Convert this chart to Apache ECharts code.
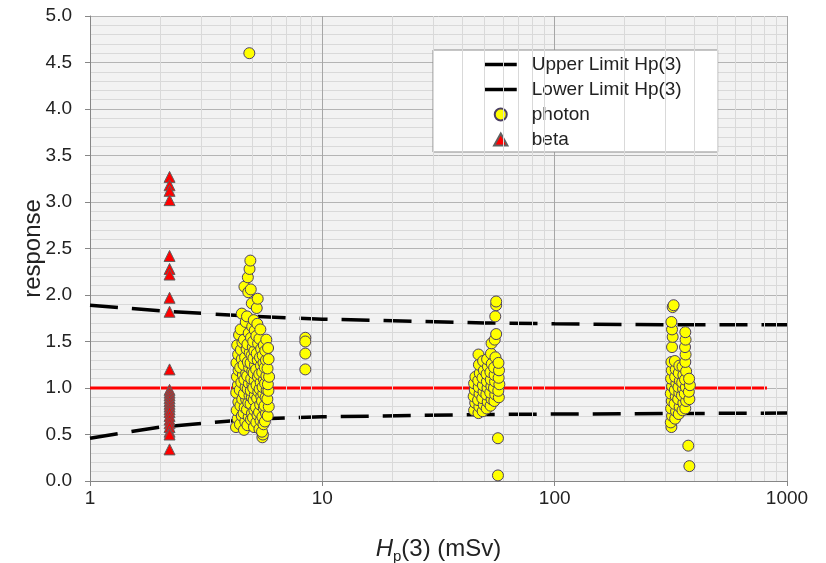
<!DOCTYPE html>
<html><head><meta charset="utf-8">
<script src="https://cdn.jsdelivr.net/npm/echarts@6/dist/echarts.min.js"></script>
<style>html,body{margin:0;padding:0;background:#fff}#c{width:826px;height:563px}</style>
</head><body><div id="c"></div>
<script>
// ---- data ----
const xTickLabels = ['1','10','100','1000'];
const minorX = [2,3,4,5,6,7,8,9,20,30,40,50,60,70,80,90,200,300,400,500,600,700,800,900];
const limitX = [1, 2, 5, 10, 50, 100, 300, 1000];
const upperY = [1.89, 1.83, 1.77, 1.74, 1.70, 1.69, 1.68, 1.68];
const lowerY = [0.46, 0.58, 0.665, 0.69, 0.715, 0.72, 0.725, 0.73];
const refX = [1, 820];
const refY = [1, 1];
const betaX = 2.2;
const betaY = [3.27,3.18,3.12,3.02,2.42,2.28,2.22,1.97,1.82,1.20,0.98,0.95,0.92,0.89,0.86,0.83,0.80,0.77,0.74,0.70,0.66,0.62,0.58,0.53,0.50,0.34];
const photon5 = [
[4.25,0.58],[4.32,0.67],[4.28,0.76],[4.35,0.85],[4.26,0.95],[4.33,1.03],[4.29,1.12],[4.36,1.19],[4.27,1.27],[4.34,1.36],[4.3,1.46],[4.38,1.57],
[4.42,0.61],[4.5,0.70],[4.44,0.81],[4.52,0.88],[4.41,0.98],[4.48,1.06],[4.55,1.14],[4.43,1.22],[4.5,1.31],[4.46,1.41],[4.53,1.49],[4.45,1.63],[4.5,1.80],
[4.6,0.55],[4.66,0.64],[4.58,0.73],[4.63,0.79],[4.7,0.88],[4.6,0.94],[4.67,1.01],[4.62,1.09],[4.7,1.16],[4.58,1.25],[4.65,1.33],[4.72,1.42],[4.6,1.52],[4.68,1.71],[4.62,2.09],
[4.76,0.60],[4.82,0.69],[4.74,0.77],[4.8,0.84],[4.86,0.92],[4.77,0.99],[4.83,1.05],[4.75,1.13],[4.84,1.22],[4.78,1.28],[4.87,1.38],[4.76,1.47],[4.82,1.59],[4.74,1.77],[4.8,2.03],[4.78,2.19],
[4.85,4.60],[4.86,2.28],[4.9,2.37],[4.93,0.66],[4.98,0.73],[4.91,0.83],[4.97,0.90],[4.92,0.97],[5.0,1.04],[4.94,1.10],[4.99,1.18],[4.91,1.27],[4.96,1.35],[5.02,1.44],[4.93,1.54],[4.99,1.66],[4.97,1.91],[4.92,2.06],
[5.08,0.58],[5.03,0.68],[5.1,0.76],[5.06,0.87],[5.12,0.93],[5.04,1.00],[5.11,1.08],[5.06,1.16],[5.13,1.25],[5.05,1.32],[5.1,1.40],[5.04,1.50],[5.12,1.62],[5.07,1.73],
[5.2,0.63],[5.26,0.71],[5.18,0.79],[5.24,0.89],[5.3,0.96],[5.21,1.03],[5.28,1.12],[5.19,1.20],[5.27,1.30],[5.22,1.37],[5.29,1.48],[5.2,1.56],[5.25,1.69],[5.22,1.86],[5.27,1.96],
[5.36,0.56],[5.42,0.65],[5.34,0.74],[5.4,0.82],[5.46,0.91],[5.37,0.99],[5.43,1.06],[5.35,1.15],[5.44,1.24],[5.39,1.33],[5.45,1.42],[5.36,1.53],[5.41,1.63],
[5.52,0.47],[5.55,0.50],[5.5,0.53],[5.58,0.61],[5.52,0.69],[5.6,0.78],[5.5,0.86],[5.57,0.94],[5.53,1.01],[5.61,1.09],[5.51,1.17],[5.58,1.27],[5.54,1.35],[5.6,1.46],
[5.66,0.64],[5.72,0.73],[5.64,0.81],[5.7,0.90],[5.76,0.98],[5.67,1.05],[5.74,1.13],[5.65,1.22],[5.72,1.30],[5.68,1.40],[5.74,1.52],
[5.82,0.70],[5.88,0.80],[5.8,0.88],[5.86,0.97],[5.83,1.04],[5.9,1.12],[5.81,1.21],[5.87,1.31],[5.84,1.43]
];
const photon8 = [[8.45,1.54],[8.45,1.50],[8.45,1.37],[8.45,1.20]];
const photon50 = [
[45,0.76],[45.5,0.84],[44.8,0.91],[45.3,0.98],[45,1.05],[45.6,1.12],
[47,0.73],[47.4,0.80],[46.8,0.87],[47.5,0.94],[47.1,1.01],[46.9,1.08],[47.6,1.16],[47.2,1.25],[47,1.36],
[49,0.75],[49.5,0.82],[48.8,0.89],[49.4,0.96],[49.1,1.03],[48.9,1.11],[49.6,1.19],[49.2,1.29],
[51,0.78],[51.5,0.85],[50.8,0.93],[51.4,1.00],[51.1,1.07],[50.9,1.15],[51.6,1.23],[51.2,1.31],
[53,0.81],[53.5,0.88],[52.8,0.95],[53.4,1.02],[53.1,1.09],[52.9,1.17],[53.6,1.26],[53.2,1.37],[53.5,1.48],
[55,0.86],[55.5,0.93],[54.8,1.00],[55.4,1.07],[55.1,1.14],[54.9,1.22],[55.6,1.33],[55.2,1.52],[56,1.58],[55.5,1.77],[56,1.89],[56,1.93],
[57.5,0.90],[57.2,0.97],[57.8,1.04],[57.4,1.11],[57.6,1.19],[57.3,1.27],[57,0.46],[57,0.06]
];
const photon350 = [
[318,0.58],[316,0.63],[320,0.70],[317,0.78],[319,0.86],[316,0.94],[320,1.02],[317,1.10],[319,1.19],[318,1.28],[320,1.44],[322,1.55],[320,1.63],[318,1.71],[322,1.87],[325,1.89],
[330,0.67],[333,0.75],[328,0.83],[332,0.91],[329,0.98],[334,1.05],[330,1.12],[332,1.20],[329,1.29],
[342,0.72],[345,0.80],[340,0.88],[344,0.95],[341,1.01],[346,1.08],[342,1.16],[344,1.24],
[355,0.76],[358,0.84],[353,0.92],[357,0.99],[354,1.06],[358,1.14],[355,1.23],
[365,0.78],[368,0.86],[363,0.94],[367,1.01],[364,1.09],[368,1.18],[365,1.28],[366,1.36],[364,1.44],[366,1.52],[365,1.60],
[380,0.88],[378,0.96],[382,1.03],[379,1.10],[376,0.38],[380,0.16]
];

// ---- chart ----
const FONT = 'Liberation Sans, Arial, sans-serif';
const zip = (xs, ys) => xs.map((x, i) => [x, ys[i]]);
const photonAll = photon5.concat(photon8, photon50, photon350);
const betaData = betaY.map(y => [betaX, y]);
const legendLine = {type: 'solid', width: 3.5, color: '#000'};
const hiddenSymbol = {opacity: 0, color: 'rgba(0,0,0,0)', borderWidth: 0};

const chart = echarts.init(document.getElementById('c'), null, {renderer: 'canvas'});
chart.setOption({
  animation: false,
  backgroundColor: '#ffffff',
  grid: {left: 90, top: 16, width: 697, height: 465, show: true, backgroundColor: '#f2f2f2', borderWidth: 0,
         containLabel: false, outerBoundsMode: 'none'},
  xAxis: {
    type: 'log', logBase: 10, min: 1, max: 1000,
    name: '{i|H}{s|p}(3) (mSv)', nameLocation: 'middle', nameGap: 54, nameMoveOverlap: false,
    nameTextStyle: {fontFamily: FONT, fontSize: 24, color: '#222',
      rich: {i: {fontStyle: 'italic', fontFamily: FONT, fontSize: 24, color: '#222'},
             s: {fontSize: 15, fontFamily: FONT, color: '#222', padding: [14, 0, 0, 0]}}},
    axisLine: {lineStyle: {color: '#868686', width: 1}},
    axisTick: {show: true, inside: false, length: 5, lineStyle: {color: '#868686'}},
    axisLabel: {fontFamily: FONT, fontSize: 19, color: '#222', margin: 8,
      formatter: v => xTickLabels.find(t => Math.abs(Number(t) - v) < 1e-6) || ''},
    splitLine: {show: true, lineStyle: {color: '#a6a6a6', width: 1}}
  },
  yAxis: {
    type: 'value', min: 0, max: 5, interval: 0.5,
    name: 'response', nameLocation: 'middle', nameGap: 45, nameRotate: 90, nameMoveOverlap: false,
    nameTextStyle: {fontFamily: FONT, fontSize: 24, color: '#222'},
    axisLine: {show: true, lineStyle: {color: '#868686', width: 1}},
    axisTick: {show: true, inside: false, length: 5, lineStyle: {color: '#868686'}},
    axisLabel: {fontFamily: FONT, fontSize: 19, color: '#222', margin: 18, formatter: v => v.toFixed(1)},
    splitLine: {show: true, lineStyle: {color: '#b4b4b4', width: 1}},
    minorTick: {show: false, splitNumber: 5},
    minorSplitLine: {show: true, lineStyle: {color: '#d9d9d9', width: 1}}
  },
  legend: {
    orient: 'vertical', left: 433, top: 50,
    backgroundColor: '#ffffff', borderColor: '#8c8c8c', borderWidth: 1,
    padding: [5, 36, 3, 50], itemWidth: 32, itemHeight: 12, itemGap: 6,
    textStyle: {fontFamily: FONT, fontSize: 19, lineHeight: 19, color: '#222', padding: [0, 0, 0, 10]},
    data: [
      {name: 'Upper Limit Hp(3)', lineStyle: legendLine, itemStyle: hiddenSymbol},
      {name: 'Lower Limit Hp(3)', lineStyle: legendLine, itemStyle: hiddenSymbol},
      {name: 'photon', icon: 'circle'},
      {name: 'beta', icon: 'path://M5,0L10,9L0,9Z'}
    ]
  },
  series: [
    {type: 'line', name: '_minor', data: [], silent: true, z: 1,
     markLine: {silent: true, symbol: 'none', label: {show: false},
       lineStyle: {color: '#d9d9d9', width: 1, type: 'solid'},
       data: minorX.map(v => ({xAxis: v}))}},
    {type: 'line', name: 'ref', data: zip(refX, refY), symbol: 'none', z: 3,
     lineStyle: {color: '#ff0000', width: 3}, itemStyle: {color: '#ff0000'}},
    {type: 'line', name: 'Upper Limit Hp(3)', data: zip(limitX, upperY), symbol: 'none', z: 4,
     lineStyle: {color: '#000', width: 3.5, type: [28, 14]}, itemStyle: {color: '#000'}},
    {type: 'line', name: 'Lower Limit Hp(3)', data: zip(limitX, lowerY), symbol: 'none', z: 4,
     lineStyle: {color: '#000', width: 3.5, type: [28, 14]}, itemStyle: {color: '#000'}},
    {type: 'scatter', name: 'photon', data: photonAll, symbol: 'circle', symbolSize: 11, z: 5,
     itemStyle: {color: '#ffff00', borderColor: '#4b3f63', borderWidth: 1, opacity: 1}},
    {type: 'scatter', name: 'beta', data: betaData, symbol: 'triangle', symbolSize: 11, z: 6,
     itemStyle: {color: '#ff0000', borderColor: '#606060', borderWidth: 1, opacity: 1}}
  ]
});
</script></body></html>
